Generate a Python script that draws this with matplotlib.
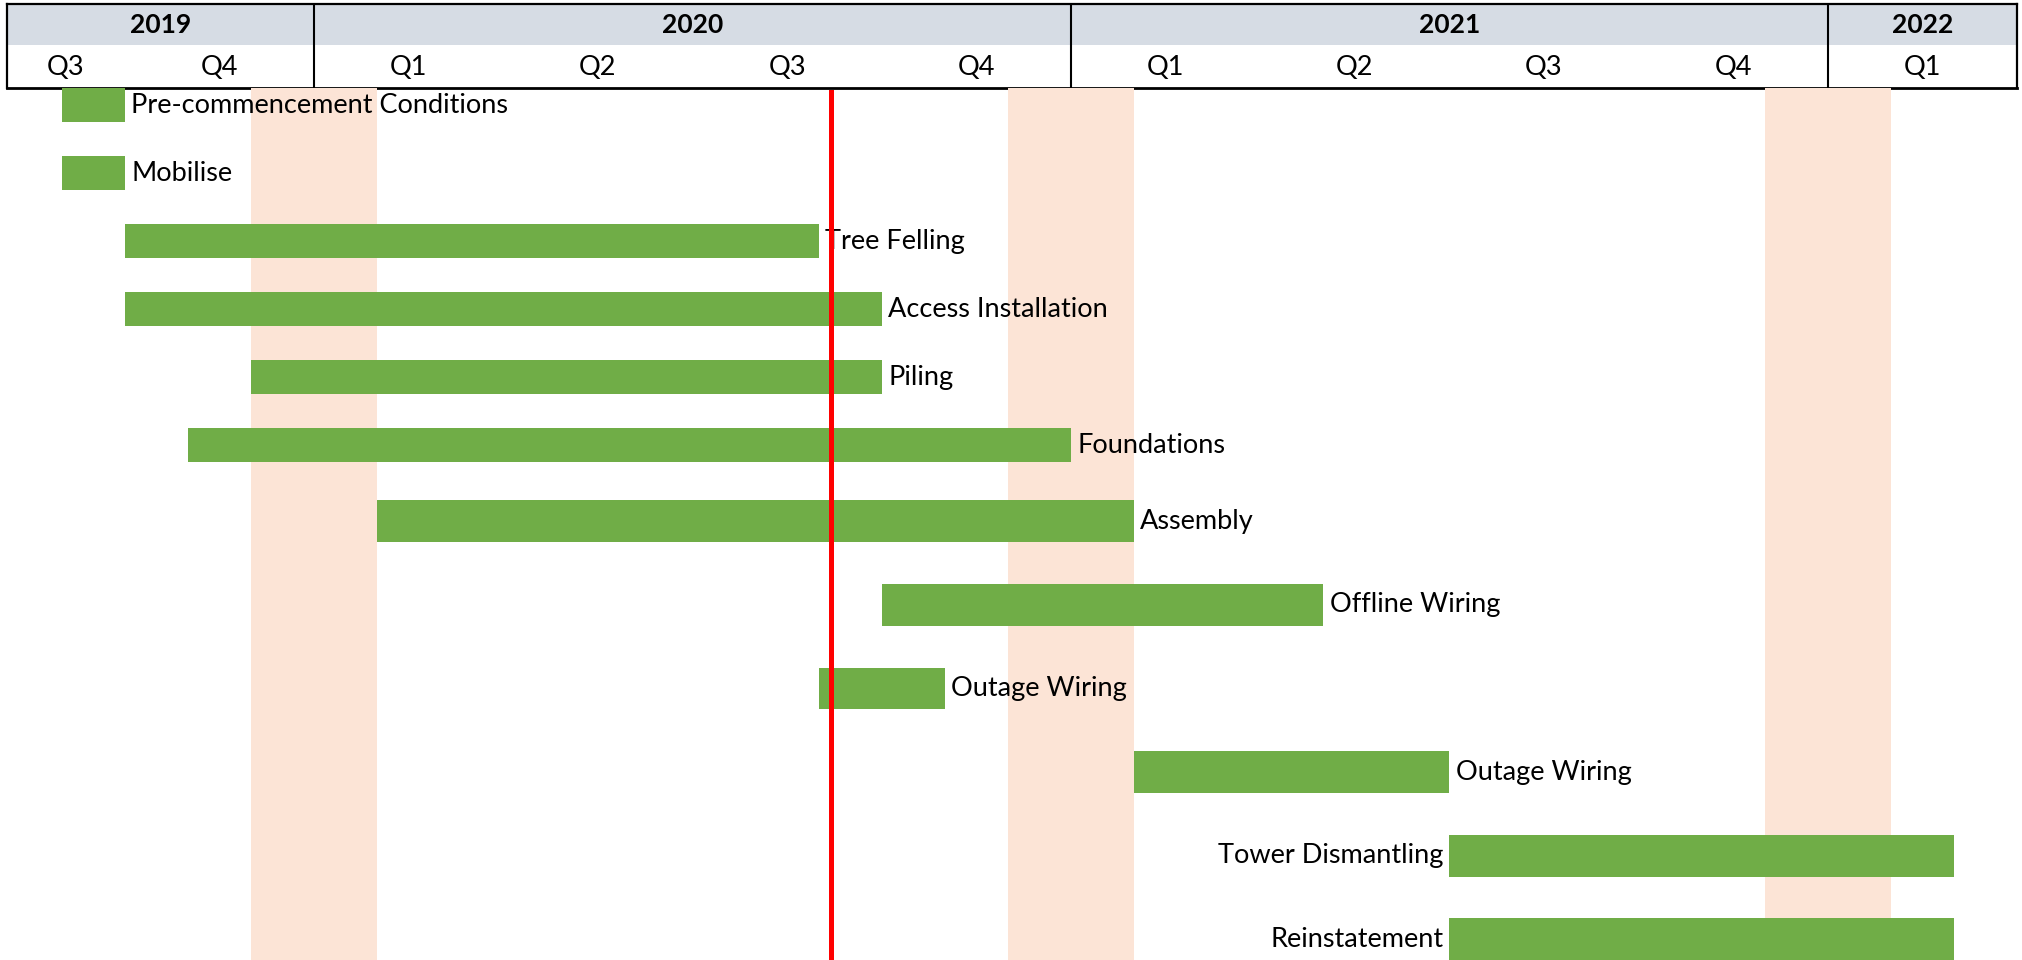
import calendar

import matplotlib
matplotlib.use("Agg")
import matplotlib.pyplot as plt

plt.rcParams["font.family"] = ["Lato", "DejaVu Sans"]

# cronograma: mes inicial (inclusivo) e mes final (exclusivo)
tarefas = [
    "Pre-commencement Conditions", "Mobilise", "Tree Felling", "Access Installation",
    "Piling", "Foundations", "Assembly", "Offline Wiring", "Outage Wiring",
    "Outage Wiring", "Tower Dismantling", "Reinstatement",
]
inicio = ["2019-09", "2019-09", "2019-10", "2019-10", "2019-12", "2019-11",
          "2020-02", "2020-10", "2020-09", "2021-02", "2021-07", "2021-07"]
fim = ["2019-10", "2019-10", "2020-09", "2020-10", "2020-10", "2021-01",
       "2021-02", "2021-05", "2020-11", "2021-07", "2022-03", "2022-03"]

# periodos de inverno sombreados
inverno_inicio = ["2019-12", "2020-12", "2021-12"]
inverno_fim = ["2020-02", "2021-02", "2022-02"]

data_status = "2020-09-07"
anos = [2019, 2020, 2021, 2022]
trimestres = ["Q1", "Q2", "Q3", "Q4"]
janela = ("2019-08-05", "2022-04-01")

# layout (altura relativa de cada linha, lado do rotulo)
alturas_linha = [1.0] * 6 + [1.23] * 6
lado_rotulo = ["dir"] * 10 + ["esq"] * 2

VERDE = "#70AD47"
PESSEGO = "#FCE4D6"
CINZA_CAB = "#D6DCE4"
FS = 19.5


def mes(s: str) -> float:
    """Meses (fracionarios) desde jan/2019."""
    p = [int(x) for x in s.split("-")]
    m = (p[0] - 2019) * 12 + p[1] - 1
    if len(p) == 3:
        m += (p[2] - 1) / calendar.monthrange(p[0], p[1])[1]
    return m


x0, x1 = mes(janela[0]), mes(janela[1])
W, H = 2022, 960
fig = plt.figure(figsize=(W / 100, H / 100), dpi=100)
cab = fig.add_axes([7 / W, 1 - 88 / H, 2010 / W, 84 / H])
ax = fig.add_axes([7 / W, 0, 2010 / W, 872 / H])

# ---- cabecalho ----
cab.set_xlim(x0, x1)
cab.set_ylim(2.05, 0)
cab.set_xticks([])
cab.set_yticks([])
cab.axhspan(0, 1, color=CINZA_CAB, lw=0, zorder=0)
for s in cab.spines.values():
    s.set_linewidth(1.6)
cab.spines["bottom"].set_linewidth(2.0)
for a in anos:
    ini, fi = mes(f"{a}-01"), mes(f"{a + 1}-01")
    if x0 < ini < x1:
        cab.axvline(ini, color="black", lw=1.5)
    vis0, vis1 = max(ini, x0), min(fi, x1)
    if vis1 > vis0:
        cab.text((vis0 + vis1) / 2, 0.52, str(a), ha="center", va="center",
                 fontsize=FS - 0.5, fontweight="bold")
    for k, q in enumerate(trimestres):
        q0, q1 = ini + 3 * k, ini + 3 * k + 3
        v0, v1 = max(q0, x0), min(q1, x1)
        if v1 > v0:
            cab.text((v0 + v1) / 2, 1.55, q, ha="center", va="center", fontsize=FS)

# ---- gantt ----
ax.set_xlim(x0, x1)
ax.set_ylim(13.07, 0.243)
ax.set_axis_off()

for a, b in zip(inverno_inicio, inverno_fim):
    ax.axvspan(mes(a), mes(b), color=PESSEGO, lw=0, zorder=0)

topo = 0.0
for nome, a, b, alt, lado in zip(tarefas, inicio, fim, alturas_linha, lado_rotulo):
    yc = topo + alt / 2
    ini, fi = mes(a), mes(b)
    ax.barh(yc, fi - ini, left=ini, height=alt / 2, color=VERDE, zorder=2)
    if lado == "dir":
        ax.annotate(nome, (fi, yc), xytext=(4.5, 0), textcoords="offset points",
                    ha="left", va="center", fontsize=FS, zorder=3)
    else:
        ax.annotate(nome, (ini, yc), xytext=(-4, 0), textcoords="offset points",
                    ha="right", va="center", fontsize=FS, zorder=3)
    topo += alt

ax.axvline(mes(data_status), ymin=0, ymax=1 - (92 - 88) / 872, color="#FF0000",
           lw=3.6, zorder=5)

fig.savefig("out.png", dpi=100)
